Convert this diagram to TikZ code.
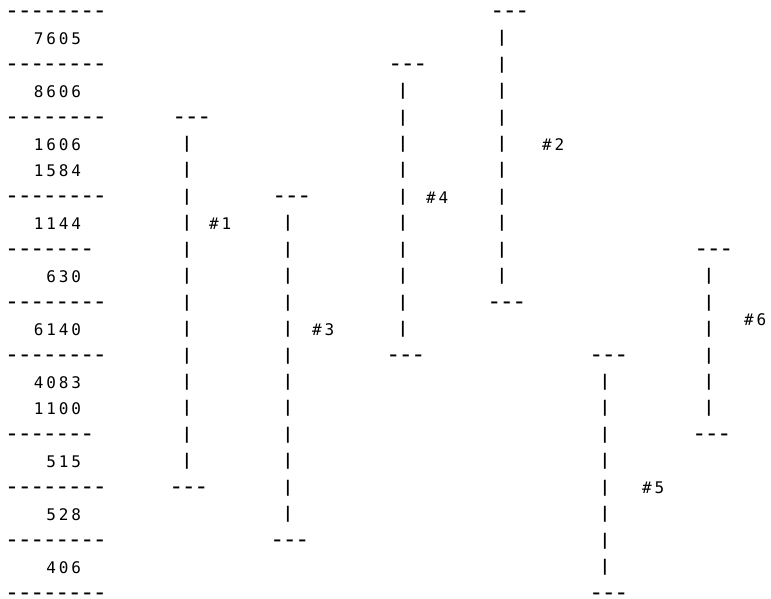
\documentclass[tikz,border=0pt]{standalone}
\usepackage{fontspec}
\newfontfamily\monof[LetterSpace=17.9]{DejaVu Sans Mono}
\newfontfamily\dashf[LetterSpace=-8.1]{DejaVu Sans Mono}
\newfontfamily\barf{DejaVu Sans Mono}
\newcommand\rowy[1]{(12+26.45*(#1))}
\begin{document}
\begin{tikzpicture}[x=1pt,y=-1pt,
  num/.style={font=\fontsize{16}{19}\monof, inner sep=0pt, anchor=base west},
  rule/.style={font=\fontsize{24}{28}\dashf, inner sep=0pt, anchor=base west},
  vbar/.style={font=\fontsize{16}{19}\barf\bfseries, inner sep=0pt, anchor=base},
]
\useasboundingbox (0,0) rectangle (771,598);
% left column: separators
\foreach \r/\s [count=\i] in {0/--------,2/--------,4/--------,7/--------,9/-------,11/--------,13/--------,16/-------,18/--------,20/--------,22/--------}
  \node[rule] (sep\i) at (4.8,{\rowy{\r}+6.6}) {\s};
% left column: numbers
\foreach \r/\x/\t [count=\i] in {1/33.7/7605,3/33.7/8606,5/33.7/1606,6/33.7/1584,8/33.7/1144,10/46.2/630,12/33.7/6140,14/33.7/4083,15/33.7/1100,17/46.2/515,19/46.2/528,21/46.2/406}
  \node[num] (n\i) at (\x,{\rowy{\r}+5.85}) {\t};
% brackets: id / bar x / top row / bottom row / top dash x / bottom dash x / label x / label y
\foreach \k/\bx/\ta/\tb/\dx/\ex/\lx/\ly in {
   1/187/4/18/172/169/209/{\rowy{8}},
   3/288/7/20/272/270/312/{\rowy{12}},
   4/403/2/13/388/386/426/{\rowy{7}},
   2/502/0/11/490/487/542/{\rowy{5}},
   5/605/13/22/589/589/642/{\rowy{18}},
   6/709/9/16/694/692/744/320}{
  \node[rule] (top\k) at (\dx,{\rowy{\ta}+6.6}) {---};
  \node[rule] (bot\k) at (\ex,{\rowy{\tb}+6.6}) {---};
  \pgfmathtruncatemacro\first{\ta+1}
  \pgfmathtruncatemacro\last{\tb-1}
  \foreach \r in {\first,...,\last}
    \node[vbar] (bar\k-\r) at (\bx,{\rowy{\r}+4.2}) {|};
  \node[num] (lab\k) at (\lx,{\ly+5.85}) {\#\k};
}
\end{tikzpicture}
\end{document}
